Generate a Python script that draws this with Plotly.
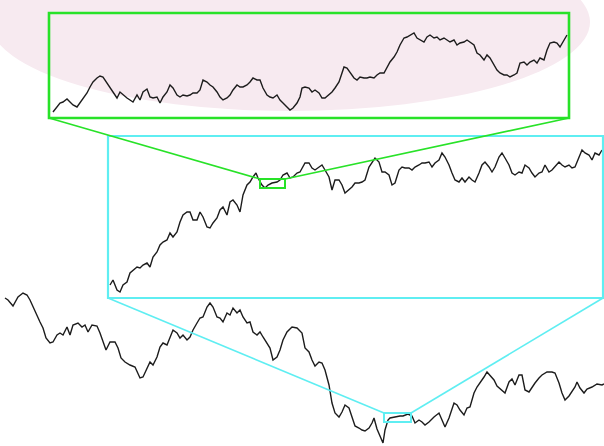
import plotly.graph_objects as go

# ---- full path (steps, level) ----
main_t = [5, 8, 13, 18, 23, 27, 30, 33, 36, 40, 43, 46, 50, 53, 57, 60, 63, 67, 70, 73,
          78, 82, 85, 88, 92, 97, 100, 103, 106, 110, 115, 118, 121, 125, 130, 135, 140, 143, 147, 150,
          153, 157, 160, 163, 167, 170, 173, 177, 180, 183, 187, 190, 193, 197, 200, 203, 207, 210, 213, 217,
          220, 223, 227, 230, 233, 237, 240, 243, 247, 250, 253, 257, 260, 263, 267, 270, 273, 277, 280, 283,
          287, 292, 297, 302, 305, 309, 312, 315, 319, 322, 325, 329, 332, 335, 339, 342, 345, 349, 352, 355,
          359, 362, 365, 369, 372, 374, 377, 380, 383, 385, 388, 390, 394, 397, 400, 403, 406, 408, 412, 415,
          419, 422, 425, 429, 434, 439, 442, 445, 449, 454, 457, 460, 464, 467, 470, 474, 477, 480, 484, 487,
          490, 494, 497, 502, 505, 509, 512, 515, 519, 522, 525, 529, 532, 535, 539, 542, 547, 552, 555, 559,
          562, 565, 569, 572, 575, 577, 580, 584, 587, 592, 597, 602, 604]
main_v = [102, 100, 94, 103, 107, 105, 100, 93, 86, 78, 72, 62, 57, 58, 65, 67, 65, 73, 65, 75,
          77, 73, 75, 68, 75, 74, 67, 58, 50, 58, 58, 52, 42, 38, 35, 33, 22, 23, 32, 38,
          35, 43, 53, 57, 55, 63, 70, 67, 62, 65, 60, 63, 70, 77, 82, 83, 93, 97, 93, 83,
          82, 78, 87, 85, 92, 87, 90, 83, 77, 78, 68, 65, 68, 63, 57, 52, 40, 43, 50, 60,
          68, 73, 72, 67, 52, 48, 40, 34, 38, 37, 30, 15, -3, -13, -17, -12, -5, -8, -17, -26,
          -28, -30, -31, -28, -23, -18, -29, -36, -43, -30, -20, -18, -17, -17, -16, -16, -15, -14, -16, -23,
          -20, -22, -25, -22, -17, -13, -20, -27, -18, -3, -5, -10, -15, -8, -7, 7, 13, 17, 23, 28,
          25, 20, 14, 10, 7, 18, 21, 15, 25, 25, 10, 8, 13, 17, 22, 25, 28, 28, 27, 17,
          7, 0, 4, 9, 13, 18, 12, 7, 11, 13, 16, 15, 16]

# ---- first magnification ----
mid_t = [2, 5, 9, 12, 15, 19, 22, 25, 29, 32, 35, 39, 42, 45, 49, 52, 55, 59, 62, 65,
         69, 72, 75, 79, 82, 85, 89, 92, 95, 99, 102, 105, 109, 112, 115, 119, 122, 125, 129, 132,
         135, 139, 142, 145, 148, 150, 154, 157, 160, 164, 169, 172, 175, 179, 182, 185, 189, 192, 194, 197,
         201, 204, 207, 211, 214, 217, 221, 224, 227, 231, 234, 237, 241, 244, 247, 251, 254, 257, 261, 264,
         267, 271, 274, 277, 281, 284, 287, 291, 294, 297, 301, 304, 307, 311, 314, 317, 321, 324, 327, 331,
         334, 337, 341, 344, 347, 351, 354, 357, 361, 364, 367, 371, 374, 377, 381, 384, 387, 391, 394, 397,
         401, 404, 407, 411, 414, 417, 421, 424, 427, 431, 434, 437, 441, 444, 447, 451, 454, 457, 461, 464,
         467, 471, 474, 477, 481, 484, 487, 491, 494]
mid_v = [13, 18, 8, 6, 13, 16, 25, 28, 31, 30, 33, 35, 31, 41, 46, 53, 56, 58, 65, 61,
         66, 76, 83, 86, 86, 78, 78, 86, 81, 71, 70, 75, 80, 88, 91, 83, 96, 98, 93, 86,
         103, 113, 116, 121, 125, 120, 113, 110, 113, 115, 116, 118, 123, 125, 120, 121, 125, 126, 130, 135,
         135, 130, 128, 131, 133, 128, 121, 108, 118, 118, 113, 105, 108, 111, 115, 115, 116, 118, 131, 136,
         140, 136, 126, 126, 123, 113, 115, 128, 131, 130, 130, 128, 131, 133, 135, 135, 136, 131, 135, 138,
         145, 141, 133, 125, 118, 116, 120, 116, 121, 118, 116, 125, 133, 136, 131, 126, 131, 141, 145, 140,
         133, 125, 123, 126, 125, 133, 130, 125, 121, 125, 126, 133, 126, 128, 131, 136, 133, 131, 133, 130,
         131, 141, 148, 145, 143, 138, 145, 143, 148]

# ---- second magnification ----
top_t = [4, 8, 11, 14, 18, 21, 24, 28, 31, 34, 38, 41, 44, 48, 51, 54, 58, 61, 64, 68,
         71, 74, 78, 81, 84, 88, 91, 94, 98, 101, 104, 108, 111, 114, 118, 121, 124, 128, 131, 134,
         138, 141, 144, 148, 151, 154, 158, 161, 164, 168, 171, 174, 178, 181, 184, 188, 191, 194, 198, 201,
         204, 208, 211, 214, 218, 221, 224, 228, 231, 234, 238, 241, 244, 248, 251, 253, 256, 260, 263, 266,
         270, 273, 276, 280, 283, 286, 290, 293, 295, 298, 301, 305, 308, 311, 315, 318, 321, 325, 328, 331,
         335, 338, 341, 345, 348, 351, 355, 358, 361, 365, 368, 371, 375, 378, 381, 385, 388, 391, 395, 398,
         401, 405, 408, 411, 415, 418, 421, 425, 428, 431, 435, 438, 441, 445, 448, 451, 455, 458, 461, 465,
         468, 471, 475, 478, 481, 485, 488, 491, 495, 498, 501, 505, 508, 511, 515, 518]
top_v = [6, 11, 15, 16, 19, 16, 13, 11, 15, 20, 25, 31, 36, 40, 42, 41, 35, 30, 25, 20,
         26, 23, 20, 18, 16, 23, 18, 26, 29, 21, 20, 21, 15, 21, 26, 33, 30, 23, 21, 23,
         22, 23, 25, 25, 28, 38, 36, 33, 31, 26, 21, 18, 20, 23, 28, 33, 31, 31, 33, 36,
         40, 38, 38, 30, 23, 21, 20, 23, 18, 15, 11, 8, 10, 15, 21, 30, 31, 30, 26, 28,
         25, 20, 20, 23, 26, 30, 36, 45, 51, 50, 46, 40, 38, 41, 40, 40, 41, 40, 43, 45,
         45, 50, 56, 61, 66, 73, 80, 81, 83, 85, 80, 78, 76, 81, 83, 80, 81, 78, 80, 78,
         76, 78, 73, 75, 76, 78, 76, 73, 65, 63, 58, 63, 60, 53, 48, 45, 43, 43, 41, 43,
         45, 55, 56, 53, 56, 58, 55, 60, 58, 68, 75, 76, 75, 71, 78, 83]

# zoom windows, each in the coordinates of the path it is cut from
mid_window_t = [384, 411]
mid_window_v = [-22, -13]
top_window_t = [152, 177]
top_window_v = [110, 119]

# panel geometry (paper fractions) and axis ranges
FW, FH = 604, 446
main_dom_x, main_dom_y = [0.0, 1.0], [0.0, 1.0]
main_rng_x, main_rng_y = [0, 604], [-46, 400]
mid_dom_x, mid_dom_y = [108 / FW, 603 / FW], [1 - 298 / FH, 1 - 136 / FH]
mid_rng_x, mid_rng_y = [0, 495], [0, 162]
top_dom_x, top_dom_y = [49 / FW, 569 / FW], [1 - 118 / FH, 1 - 13 / FH]
top_rng_x, top_rng_y = [0, 520], [0, 105]

GREEN = "rgb(40,226,40)"
CYAN = "rgb(95,238,242)"
INK = "#1c1c1c"


def to_paper(t, v, dx, dy, rx, ry):
    px = dx[0] + (t - rx[0]) / (rx[1] - rx[0]) * (dx[1] - dx[0])
    py = dy[0] + (v - ry[0]) / (ry[1] - ry[0]) * (dy[1] - dy[0])
    return px, py


fig = go.Figure()

fig.add_trace(go.Scatter(x=main_t, y=main_v, xaxis="x", yaxis="y", mode="lines",
                         line=dict(color=INK, width=1.4), showlegend=False))
fig.add_trace(go.Scatter(x=mid_t, y=mid_v, xaxis="x2", yaxis="y2", mode="lines",
                         line=dict(color=INK, width=1.4), showlegend=False))
fig.add_trace(go.Scatter(x=top_t, y=top_v, xaxis="x3", yaxis="y3", mode="lines",
                         line=dict(color=INK, width=1.4), showlegend=False))

hidden = dict(visible=False, showgrid=False, zeroline=False, fixedrange=True)
fig.update_layout(
    width=FW, height=FH,
    margin=dict(l=0, r=0, t=0, b=0),
    paper_bgcolor="white", plot_bgcolor="rgba(0,0,0,0)",
    xaxis=dict(domain=main_dom_x, range=main_rng_x, anchor="y", **hidden),
    yaxis=dict(domain=main_dom_y, range=main_rng_y, anchor="x", **hidden),
    xaxis2=dict(domain=mid_dom_x, range=mid_rng_x, anchor="y2", **hidden),
    yaxis2=dict(domain=mid_dom_y, range=mid_rng_y, anchor="x2", **hidden),
    xaxis3=dict(domain=top_dom_x, range=top_rng_x, anchor="y3", **hidden),
    yaxis3=dict(domain=top_dom_y, range=top_rng_y, anchor="x3", **hidden),
)

# pale emblem wash across the top
fig.add_shape(type="circle", xref="paper", yref="paper",
              x0=-10 / FW, x1=590 / FW, y0=1 - 111 / FH, y1=1 + 67 / FH,
              fillcolor="#f7eaf0", line=dict(width=0), layer="below")

# zoom windows drawn on the path they come from
fig.add_shape(type="rect", xref="x", yref="y",
              x0=mid_window_t[0], x1=mid_window_t[1], y0=mid_window_v[0], y1=mid_window_v[1],
              line=dict(color=CYAN, width=2))
fig.add_shape(type="rect", xref="x2", yref="y2",
              x0=top_window_t[0], x1=top_window_t[1], y0=top_window_v[0], y1=top_window_v[1],
              line=dict(color=GREEN, width=2))

# magnified panels
fig.add_shape(type="rect", xref="x2 domain", yref="y2 domain", x0=0, x1=1, y0=0, y1=1,
              line=dict(color=CYAN, width=2.2))
fig.add_shape(type="rect", xref="x3 domain", yref="y3 domain", x0=0, x1=1, y0=0, y1=1,
              line=dict(color=GREEN, width=2.6))

# connectors: panel bottom corners -> window top corners
for (dx, dy, win_t, win_v, pdx, pdy, prx, pry, col) in [
    (mid_dom_x, mid_dom_y, mid_window_t, mid_window_v, main_dom_x, main_dom_y, main_rng_x, main_rng_y, CYAN),
    (top_dom_x, top_dom_y, top_window_t, top_window_v, mid_dom_x, mid_dom_y, mid_rng_x, mid_rng_y, GREEN),
]:
    for side in (0, 1):
        wx, wy = to_paper(win_t[side], win_v[1], pdx, pdy, prx, pry)
        fig.add_shape(type="line", xref="paper", yref="paper",
                      x0=dx[side], y0=dy[0], x1=wx, y1=wy,
                      line=dict(color=col, width=1.6))

fig.write_html("out.html")
